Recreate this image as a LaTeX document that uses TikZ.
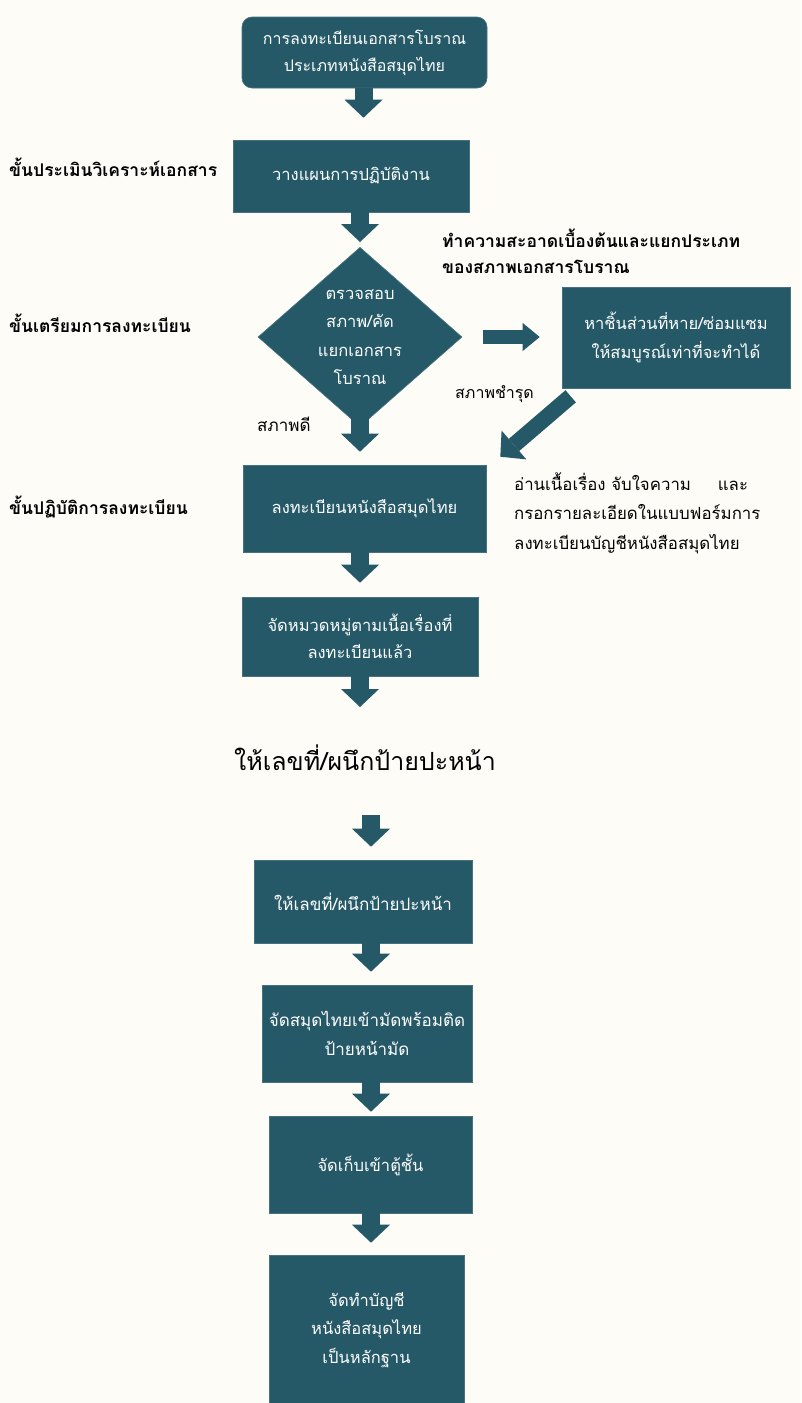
\documentclass[tikz,border=0pt]{standalone}
\usepackage{fontspec}
\newfontfamily\thai[Script=Thai]{Loma}
\usetikzlibrary{shapes.geometric,arrows.meta}
\definecolor{boxc}{RGB}{37,89,104}
\definecolor{bgc}{RGB}{253,252,247}
\begin{document}
\begin{tikzpicture}[x=1pt,y=-1pt,
  box/.style={fill=boxc, draw=boxc!85!white, line width=0.6pt, inner sep=0pt, align=center,
    text=white, font=\thai\fontsize{16.5}{28.5}\selectfont},
  stage/.style={anchor=west, inner sep=0pt, font=\thai\bfseries\fontsize{17.5}{24}\selectfont},
  note/.style={anchor=west, inner sep=0pt, align=left, font=\thai\fontsize{16.8}{29.5}\selectfont},
  blk/.style={draw=boxc, line width=18pt, -{Triangle[length=18pt,width=38pt,line width=0pt]}},
  blks/.style={draw=boxc, line width=14pt, -{Triangle[length=17pt,width=28pt,line width=0pt]}}
]
\fill[bgc] (0,0) rectangle (801,1403);
\useasboundingbox (0,0) rectangle (801,1403);

% boxes
\node[box, rounded corners=10pt, minimum width=245pt, minimum height=71pt, font=\thai\fontsize{16}{27}\selectfont] (n1) at (364.5,52.5)
  {การลงทะเบียนเอกสารโบราณ\\ประเภทหนังสือสมุดไทย};
\node[box, minimum width=236pt, minimum height=72pt] (n2) at (351,176) {วางแผนการปฏิบัติงาน};
\node[box, diamond, minimum width=204pt, minimum height=178pt] (dia) at (360,337)
  {ตรวจสอบ\\สภาพ/คัด\\แยกเอกสาร\\โบราณ};
\node[box, minimum width=228pt, minimum height=101pt] (rep) at (676,337.5)
  {หาชิ้นส่วนที่หาย/ซ่อมแซม\\ให้สมบูรณ์เท่าที่จะทำได้};
\node[box, minimum width=243pt, minimum height=87pt] (n3) at (364.5,508.5) {ลงทะเบียนหนังสือสมุดไทย};
\node[box, minimum width=236pt, minimum height=79pt, font=\thai\fontsize{16.5}{27}\selectfont] (n4) at (360,636.5)
  {จัดหมวดหมู่ตามเนื้อเรื่องที่\\ลงทะเบียนแล้ว};
\node[inner sep=0pt, font=\thai\fontsize{25}{30}\selectfont] (big) at (365,758) {ให้เลขที่/ผนึกป้ายปะหน้า};
\node[box, minimum width=218pt, minimum height=83pt, font=\thai\fontsize{17}{28.5}\selectfont] (n5) at (363,901.5) {ให้เลขที่/ผนึกป้ายปะหน้า};
\node[box, minimum width=210pt, minimum height=97pt, font=\thai\fontsize{17}{29}\selectfont] (n6) at (367,1033.5)
  {จัดสมุดไทยเข้ามัดพร้อมติด\\ป้ายหน้ามัด};
\node[box, minimum width=203pt, minimum height=97pt] (n7) at (370.5,1164.5) {จัดเก็บเข้าตู้ชั้น};
\node[box, minimum width=195pt, minimum height=150pt] (n8) at (366.5,1330)
  {จัดทำบัญชี\\หนังสือสมุดไทย\\เป็นหลักฐาน};

% stage labels
\node[stage] (s1) at (9,167) {ขั้นประเมินวิเคราะห์เอกสาร};
\node[stage] (s2) at (9,323) {ขั้นเตรียมการลงทะเบียน};
\node[stage] (s3) at (9,507) {ขั้นปฏิบัติการลงทะเบียน};
\node[stage, align=left, font=\thai\bfseries\fontsize{17.5}{26}\selectfont] (s4) at (442,251)
  {ทำความสะอาดเบื้องต้นและแยกประเภท\\ของสภาพเอกสารโบราณ};

% notes
\node[note, font=\thai\fontsize{17}{20}\selectfont] (good) at (257,424) {สภาพดี};
\node[note, font=\thai\fontsize{16}{20}\selectfont] (bad) at (455,394) {สภาพชำรุด};
\node[note] (read) at (514,513)
  {อ่านเนื้อเรื่อง จับใจความ\hspace{1.6em}และ\\กรอกรายละเอียดในแบบฟอร์มการ\\ลงทะเบียนบัญชีหนังสือสมุดไทย};

% connectors
\coordinate (col) at (371,0);
\coordinate (t5) at (360,707);
\coordinate (s6) at (371,815);
\draw[blk, shorten >=22pt] (n1.south -| 363.5,0) -- (n2.north -| 363.5,0);
\draw[blk, shorten >=5pt] (dia.north |- n2.south) -- (dia.north);
\draw[blk, shorten <=-11pt, shorten >=13pt] (dia.south) -- (dia.south |- n3.north);
\draw[blks, shorten <=21pt, shorten >=22pt] (dia.east) -- (rep.west |- dia.east);
\draw[blk, line width=16pt] ([xshift=9pt,yshift=-8pt]rep.south west) -- ([xshift=14pt,yshift=8pt]n3.north east);
\draw[blk, shorten >=14pt] (n4.north |- n3.south) -- (n4.north);
\draw[blk] (n4.south) -- (t5);
\draw[blk, shorten >=13pt] (s6) -- (n5.north -| s6);
\draw[blk, shorten >=13pt] (n5.south -| col) -- (n6.north -| col);
\draw[blk, shorten >=4pt] (n6.south -| col) -- (n7.north -| col);
\draw[blk, shorten >=12pt] (n7.south -| col) -- (n8.north -| col);
\end{tikzpicture}
\end{document}
